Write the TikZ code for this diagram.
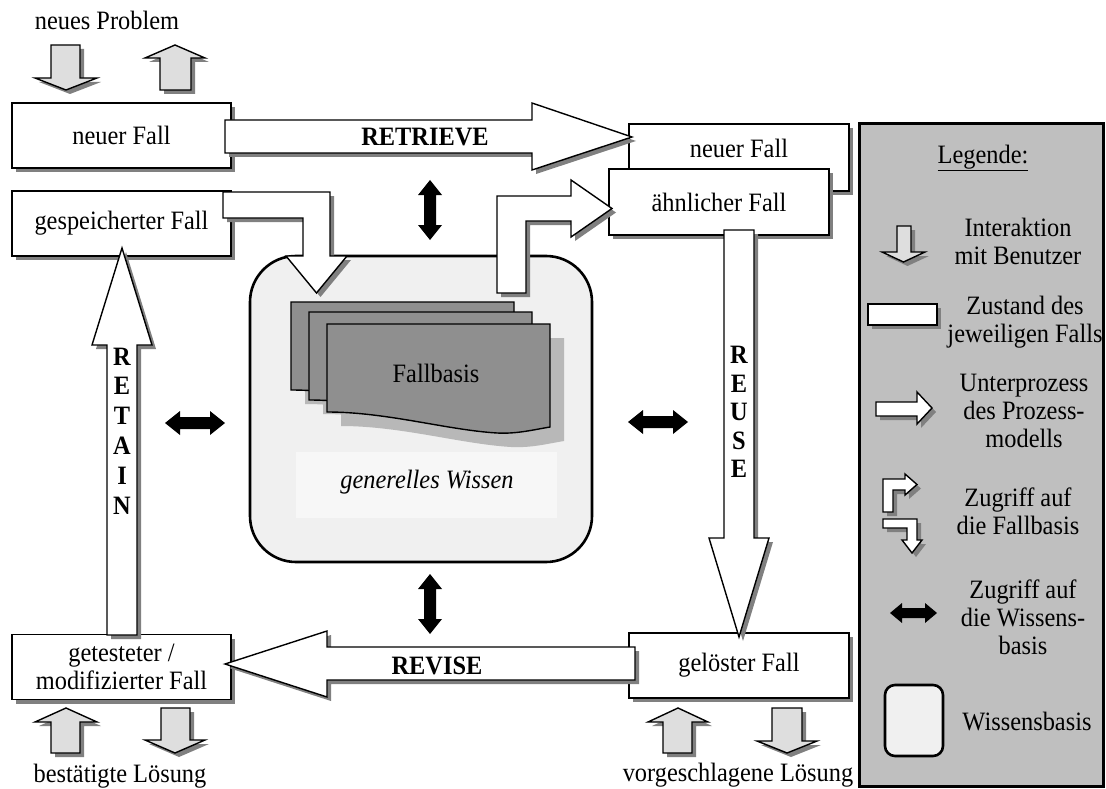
\documentclass[tikz,border=0pt]{standalone}
\usepackage{fontspec}
\setmainfont{Liberation Serif}[FakeStretch=0.92]
\definecolor{shadowgray}{gray}{0.5}
\definecolor{userfill}{gray}{0.87}
\definecolor{kbfill}{gray}{0.94}
\definecolor{kbinner}{gray}{0.97}
\definecolor{docfill}{gray}{0.56}
\definecolor{docshadow}{gray}{0.72}
\definecolor{legendfill}{gray}{0.75}

\tikzset{
  shd/.style={preaction={fill=shadowgray, draw=none, transform canvas={xshift=4pt, yshift=-4pt}}},
  docshd/.style={preaction={fill=docshadow, draw=none, transform canvas={xshift=14pt, yshift=-14pt}}},
  casebox/.style={draw, line width=1.8pt, fill=white, shd, inner sep=0pt},
  blockarrow/.style={draw, line width=1.4pt, fill=white, shd},
  userarrow/.style={draw, line width=1.4pt, fill=userfill, shd},
  casedoc/.style={draw, line width=1.4pt, fill=docfill, docshd},
  txt/.style={align=center, inner sep=0pt},
  proc/.style={font=\fontsize{26.5}{28}\selectfont\bfseries, inner sep=0pt},
}

% user interaction arrows: shaft left, shaft right, top, head base, head left, head right, tip y
\newcommand{\UserDown}[7]{%
  \path[userarrow] (#1,#3) -- (#2,#3) -- (#2,#4) -- (#6,#4) -- ({(#5+#6)/2},#7) -- (#5,#4) -- (#1,#4) -- cycle;}
% shaft left, shaft right, bottom, head base, head left, head right, tip y
\newcommand{\UserUp}[7]{%
  \path[userarrow] (#1,#3) -- (#1,#4) -- (#5,#4) -- ({(#5+#6)/2},#7) -- (#6,#4) -- (#2,#4) -- (#2,#3) -- cycle;}
% knowledge access arrows: vertical (x, y1, y2), horizontal (x1, x2, y); last args head length, head half width, shaft half width
\newcommand{\KBlinkV}[6]{%
  \fill ({#1},{#2}) -- ({#1+#5},{#2+#4}) -- ({#1+#6},{#2+#4}) -- ({#1+#6},{#3-#4}) -- ({#1+#5},{#3-#4}) -- ({#1},{#3})
    -- ({#1-#5},{#3-#4}) -- ({#1-#6},{#3-#4}) -- ({#1-#6},{#2+#4}) -- ({#1-#5},{#2+#4}) -- cycle;}
\newcommand{\KBlinkH}[6]{%
  \fill ({#1},{#3}) -- ({#1+#4},{#3-#5}) -- ({#1+#4},{#3-#6}) -- ({#2-#4},{#3-#6}) -- ({#2-#4},{#3-#5}) -- ({#2},{#3})
    -- ({#2-#4},{#3+#5}) -- ({#2-#4},{#3+#6}) -- ({#1+#4},{#3+#6}) -- ({#1+#4},{#3+#5}) -- cycle;}
% one sheet of the case base: top-left corner x, y
\newcommand{\CaseSheet}[2]{%
  \path[casedoc] (#1,#2) -- ({#1+223},#2) -- ({#1+223},{#2+103})
    .. controls ({#1+205},{#2+106}) and ({#1+190},{#2+110}) .. ({#1+170},{#2+109})
    .. controls ({#1+120},{#2+106}) and ({#1+60},{#2+88}) .. (#1,{#2+88}) -- cycle;}

\begin{document}
\begin{tikzpicture}[x=1pt, y=-1pt, line join=miter, font=\fontsize{26.5}{28}\selectfont]
\useasboundingbox (0,0) rectangle (1106,789);

% ---------- legend panel ----------
\node[draw, line width=3pt, fill=legendfill, minimum width=244, minimum height=662, inner sep=0pt] (legend) at (981,455) {};

% ---------- knowledge base ----------
\node[draw, line width=2.6pt, fill=kbfill, rounded corners=46pt, minimum width=342, minimum height=306, inner sep=0pt] (kb) at (421,409) {};
\node[fill=kbinner, minimum width=261, minimum height=66, inner sep=0pt] (gwbg) at (426.5,485) {};
\CaseSheet{291}{302}
\CaseSheet{309}{312}
\CaseSheet{327}{324}
\node[txt] (fallbasis) at (436,373) {Fallbasis};
\node[txt] (gw) at (427,482) {\itshape generelles Wissen};

% ---------- case states ----------
\node[casebox, minimum width=219, minimum height=65] (nf1) at (121.5,135.5) {neuer Fall};
\node[casebox, minimum width=219, minimum height=65] (gf) at (121.5,223.5) {gespeicherter Fall};
\node[casebox, minimum width=220, minimum height=67] (nf2) at (739,157.5) {};
\node[txt] (nf2t) at (739,148) {neuer Fall};
\node[casebox, minimum width=220, minimum height=66] (af) at (719,202) {ähnlicher Fall};
\node[casebox, minimum width=220, minimum height=65] (gl) at (739,665.5) {gelöster Fall};
\node[casebox, minimum width=219, minimum height=65, align=center] (gt) at (121.5,667) {getesteter /\\modifizierter Fall};

% ---------- sub-processes ----------
\path[blockarrow] (225,120) -- (532,120) -- (532,103) -- (632,137) -- (532,170) -- (532,153) -- (225,153) -- cycle;
\node[proc] (retrieve) at (425,137) {RETRIEVE};

\path[blockarrow] (635,647) -- (327,647) -- (327,631) -- (225,664) -- (327,697) -- (327,680) -- (635,680) -- cycle;
\node[proc] (revise) at (437,666) {REVISE};

\path[blockarrow] (107,635) -- (107,345) -- (92,345) -- (122,248) -- (152,345) -- (137,345) -- (137,635) -- cycle;
\node[proc, align=center, font=\fontsize{26.5}{29.8}\selectfont\bfseries] (retain) at (122,431) {R\\E\\T\\A\\I\\N};

\path[blockarrow] (724,230) -- (754,230) -- (754,538) -- (769,538) -- (739,637) -- (709,538) -- (724,538) -- cycle;
\node[proc, align=center, font=\fontsize{26.5}{28.5}\selectfont\bfseries] (reuse) at (739,412) {R\\E\\U\\S\\E};

% ---------- access to the case base ----------
\path[blockarrow] (223,192) -- (330,192) -- (330,256) -- (347,256) -- (316.5,293) -- (286,256) -- (303,256) -- (303,218) -- (223,218) -- cycle;
\path[blockarrow] (497,293) -- (497,196) -- (571,196) -- (571,180) -- (612,208.5) -- (571,237) -- (571,221) -- (526,221) -- (526,293) -- cycle;

% ---------- access to the knowledge base ----------
\KBlinkV{430}{180}{240}{15}{12}{6}
\KBlinkV{430}{574}{634}{15}{12}{6}
\KBlinkH{165}{225}{423}{15}{12}{6}
\KBlinkH{628}{688}{422}{15}{12}{6}

% ---------- user interaction ----------
\node[txt] (np) at (107,20) {neues Problem};
\UserDown{51}{80}{45}{78}{35}{97}{90}
\UserUp{160}{191}{90}{58}{145}{205}{45}

\UserUp{51}{80}{753}{722}{35}{97}{708}
\UserDown{161}{190}{708}{740}{145}{205}{753}
\node[txt] (bl) at (120,776) {bestätigte Lösung};

\UserUp{663}{692}{753}{722}{648}{708}{708}
\UserDown{772}{802}{708}{741}{757}{817}{753}
\node[txt] (vl) at (738,775) {vorgeschlagene Lösung};

% ---------- legend ----------
\node[txt] (lgtitle) at (983,158) {\underline{Legende:}};

\UserDown{897}{911}{226}{252}{882}{925}{262}
\node[txt] (lg1) at (1018,241) {Interaktion\\mit Benutzer};

\node[casebox, minimum width=69, minimum height=21] (lgbox) at (902.5,314.5) {};
\node[txt] (lg2) at (1025,322) {Zustand des\\jeweiligen Falls};

\path[blockarrow] (876,402) -- (917,402) -- (917,392) -- (932,408) -- (917,424) -- (917,416) -- (876,416) -- cycle;
\node[txt] (lg3) at (1024,411) {Unterprozess\\des Prozess-\\modells};

\path[blockarrow] (883,512) -- (883,479) -- (905,479) -- (905,474) -- (917,484.5) -- (905,495) -- (905,490) -- (893,490) -- (893,512) -- cycle;
\path[blockarrow] (883,519) -- (917,519) -- (917,540) -- (922,540) -- (912,553) -- (902,540) -- (907,540) -- (907,528) -- (883,528) -- cycle;
\node[txt] (lg4) at (1018,511) {Zugriff auf\\die Fallbasis};

\KBlinkH{890}{937}{613}{12}{10}{5}
\node[txt] (lg5) at (1023,617) {Zugriff auf\\die Wissens-\\basis};

\node[draw, line width=2.6pt, fill=kbfill, rounded corners=10pt, minimum width=58, minimum height=71, inner sep=0pt] (lgkb) at (914,720.5) {};
\node[txt] (lg6) at (1027,722) {Wissensbasis};
\end{tikzpicture}
\end{document}
